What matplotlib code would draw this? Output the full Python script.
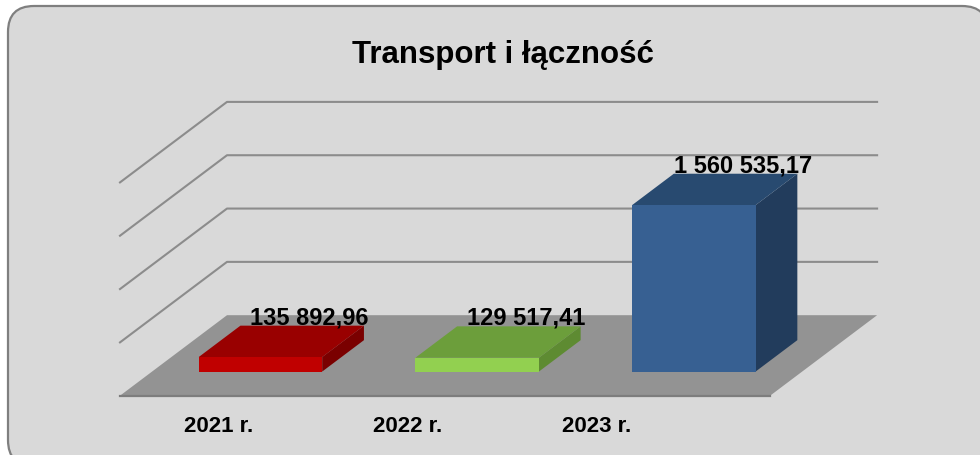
import matplotlib.pyplot as plt
from matplotlib.patches import Polygon, FancyBboxPatch

# data
categories = ['2021 r.', '2022 r.', '2023 r.']
values = [135892.96, 129517.41, 1560535.17]
value_labels = ['135 892,96', '129 517,41', '1 560 535,17']
grid_values = [500000, 1000000, 1500000, 2000000]
title = 'Transport i łączność'

front_colors = ['#c00000', '#92d050', '#376092']
top_colors = ['#990000', '#6c9e3b', '#284a70']
side_colors = ['#7a0000', '#5e8b32', '#223c5c']

# fake 3d projection (pixel space, y down)
X0, Y0 = 120.0, 396.7          # front-left corner of the floor
STEP = 216.7                   # width of one category
DEPTH = (107.0, -80.5)         # vector front -> back wall
SCALE = 213.3 / 2000000        # px per unit of value
BAR_W = 0.57
BAR_D = (0.30, 0.69)


def proj(cat, d, v):
    # cat in category units, d = depth fraction 0..1, v = value
    x = X0 + cat * STEP + d * DEPTH[0]
    y = Y0 + d * DEPTH[1] - v * SCALE
    return x, y


plt.rcParams['font.family'] = ['Liberation Sans', 'DejaVu Sans']

fig = plt.figure(figsize=(9.8, 4.56), dpi=100, facecolor='white')
ax = fig.add_axes([0, 0, 1, 1])
ax.set_xlim(0, 980)
ax.set_ylim(456, 0)
ax.axis('off')

ax.add_patch(FancyBboxPatch((8, 7), 980, 460,
                            boxstyle='round,pad=0,rounding_size=26',
                            fc='#d9d9d9', ec='#7f7f7f', lw=1.6, zorder=0))

n = len(categories)

# floor
floor = [proj(0, 0, 0), proj(n, 0, 0), proj(n, 1, 0), proj(0, 1, 0)]
ax.add_patch(Polygon(floor, closed=True, fc='#939393', ec='none', zorder=1))
ax.plot(*zip(proj(0, 0, 0), proj(n, 0, 0)), color='#7d7d7d', lw=1.6, zorder=1)

# gridlines on back and left walls
for g in grid_values:
    pts = [proj(0, 0, g), proj(0, 1, g), proj(n, 1, g)]
    ax.plot(*zip(*pts), color='#8c8c8c', lw=1.5, zorder=1)

# bars
for i, v in enumerate(values):
    l = i + (1 - BAR_W) / 2
    r = l + BAR_W
    f, b = BAR_D
    side = [proj(r, f, 0), proj(r, f, v), proj(r, b, v), proj(r, b, 0)]
    top = [proj(l, f, v), proj(r, f, v), proj(r, b, v), proj(l, b, v)]
    front = [proj(l, f, 0), proj(r, f, 0), proj(r, f, v), proj(l, f, v)]
    ax.add_patch(Polygon(side, closed=True, fc=side_colors[i], ec='none', zorder=2))
    ax.add_patch(Polygon(top, closed=True, fc=top_colors[i], ec='none', zorder=2))
    ax.add_patch(Polygon(front, closed=True, fc=front_colors[i], ec='none', zorder=2))

    lx, ly = proj(i + 0.5, b, v)
    ax.text(lx + 7, ly - 9, value_labels[i], ha='center', va='center',
            fontsize=17, fontweight='bold', color='black', zorder=3)

# category labels
for i, c in enumerate(categories):
    ax.text(X0 + 4 + (i + 0.5) * STEP * 0.872, 427, c, ha='center', va='center',
            fontsize=16, fontweight='bold', color='black', zorder=3)

ax.text(503, 55, title, ha='center', va='center', fontsize=22.5,
        fontweight='bold', color='black', zorder=3)

fig.savefig('out.png', dpi=100, facecolor='white')
